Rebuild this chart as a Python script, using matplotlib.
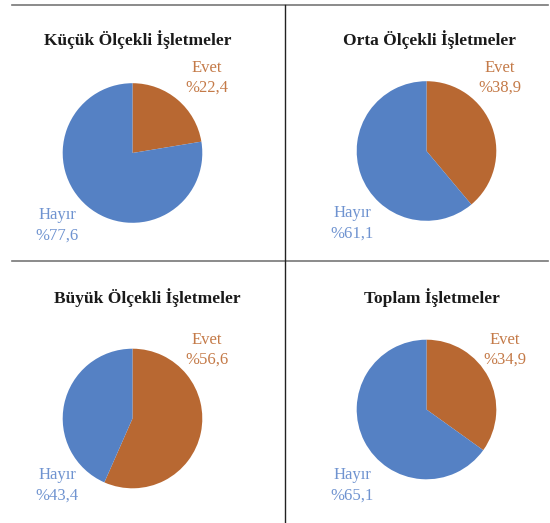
import matplotlib
matplotlib.use("Agg")
import matplotlib.pyplot as plt
from matplotlib.lines import Line2D

# data
titles = ["Küçük Ölçekli İşletmeler", "Orta Ölçekli İşletmeler",
          "Büyük Ölçekli İşletmeler", "Toplam İşletmeler"]
labels = ["Evet", "Hayır"]
evet = [22.4, 38.9, 56.6, 34.9]
hayir = [77.6, 61.1, 43.4, 65.1]

W, H = 550, 523
BLUE = "#5581C4"
ORANGE = "#B86832"
BLUE_TXT = "#6F93D0"
ORANGE_TXT = "#C47A48"

plt.rcParams['font.family'] = ['Liberation Serif', 'DejaVu Serif']

fig = plt.figure(figsize=(W / 100, H / 100), dpi=100)

def fx(x):
    return x / W

def fy(y):
    return 1 - y / H

# pixel layout of each panel: pie centre, title centre, label positions
centres = [(132.5, 153), (426.5, 151), (132.5, 418.5), (426.5, 409.5)]
title_pos = [(138, 40), (429, 40), (147, 298), (432, 298)]
evet_pos = [(207, 68), (500, 68), (207, 340), (505, 340)]
hayir_pos = [(57, 215), (352, 213), (57, 475), (352, 475)]
R = 70.5

for i in range(4):
    cx, cy = centres[i]
    ax = fig.add_axes([fx(cx - R), fy(cy + R), 2 * R / W, 2 * R / H])
    ax.pie([evet[i], hayir[i]], colors=[ORANGE, BLUE], startangle=90,
           counterclock=False, radius=1,
           wedgeprops=dict(linewidth=0))
    ax.set_xlim(-1.01, 1.01)
    ax.set_ylim(-1.01, 1.01)
    ax.axis("off")

    tx, ty = title_pos[i]
    fig.text(fx(tx), fy(ty), titles[i], ha="center", va="center",
             fontsize=12.5, fontweight="bold", color="#1a1a1a")
    ex, ey = evet_pos[i]
    fig.text(fx(ex), fy(ey), labels[0], ha="center", va="center",
             fontsize=12, color=ORANGE_TXT)
    fig.text(fx(ex), fy(ey + 20), "%" + f"{evet[i]:.1f}".replace(".", ","),
             ha="center", va="center", fontsize=12, color=ORANGE_TXT)
    hx, hy = hayir_pos[i]
    fig.text(fx(hx), fy(hy), labels[1], ha="center", va="center",
             fontsize=12, color=BLUE_TXT)
    fig.text(fx(hx), fy(hy + 21), "%" + f"{hayir[i]:.1f}".replace(".", ","),
             ha="center", va="center", fontsize=12, color=BLUE_TXT)

# frame lines
fig.add_artist(Line2D([fx(12), fx(548)], [fy(5), fy(5)], color="#777777", lw=1.2))
fig.add_artist(Line2D([fx(12), fx(548)], [fy(261), fy(261)], color="#777777", lw=1.2))
fig.add_artist(Line2D([fx(285), fx(285)], [fy(5), fy(523)], color="#222222", lw=1.0))

fig.savefig("out.png", dpi=100)
